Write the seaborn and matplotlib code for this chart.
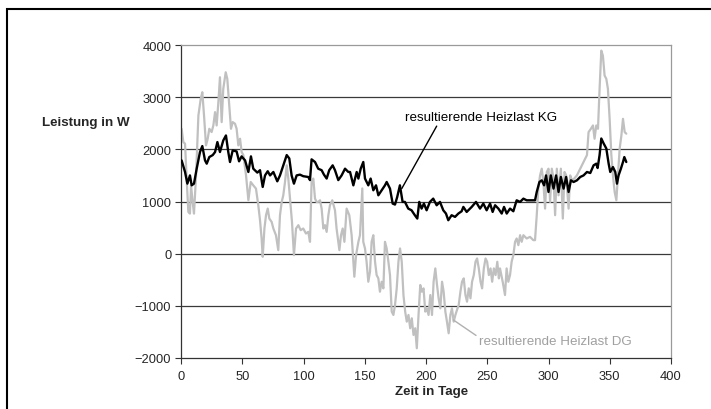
import matplotlib
matplotlib.use("Agg")
import matplotlib.pyplot as plt
import seaborn as sns
import pandas as pd
from matplotlib.patches import Rectangle

# ---- data ----
kg_day = [0.5, 3.3, 5.2, 7.3, 8.7, 10.6, 12.8, 15.5, 17.4, 19.6, 21, 23.1, 25.9, 27.8, 29.7, 31.8,
          34.5, 36.7, 38.6, 40, 42.2, 45.4, 47.4, 49.5, 52.3, 55, 57.1, 59, 62.3, 64.5, 66.7, 68.6,
          70.8, 72.7, 75.4, 78.6, 80.8, 83.5, 86.3, 88.4, 90.3, 92.2, 94.4, 97.1, 99.8, 103.9, 105.3,
          106.6, 109.4, 112, 114.8, 116.7, 118.9, 121, 123.8, 125.7, 128.4, 131.1, 133.9, 136.6,
          138, 140.7, 143.4, 144.8, 146.7, 148.8, 150.2, 152.9, 154.8, 157, 159.2, 161.1, 163.8,
          166.5, 167.9, 170.6, 172.8, 174.7, 176.5, 178.7, 180.9, 182.8, 185.5, 188.2, 190.9, 192.9,
          194.5, 196.4, 198.3, 200.5, 203.2, 205.9, 208.7, 211.4, 214.1, 216.3, 218.2, 220.9, 223.7,
          226.4, 229.1, 230.5, 233.2, 237.3, 240.8, 244.1, 246.8, 249.5, 252.3, 254.4, 256.4, 259.1,
          261.8, 263.7, 265.9, 268.6, 271.3, 274, 276.8, 279.5, 282.2, 286.3, 289, 290.4, 292.6,
          294.5, 296.4, 298, 300, 301.9, 304.1, 306.2, 308.2, 310.1, 312.3, 314.4, 316.4, 318.3,
          320.5, 323.2, 325.9, 328.6, 331.4, 334.1, 336.8, 339, 340.1, 341.7, 343.1, 345, 347.2,
          349.1, 350.4, 352.6, 354.5, 355.9, 357.2, 359.1, 360.8, 361.9, 363.5]
kg_val = [1788, 1566, 1342, 1500, 1310, 1342, 1629, 1948, 2063, 1788, 1725, 1852, 1890, 1948, 2139, 1948,
          2170, 2266, 1948, 1757, 1979, 1960, 1770, 1865, 1788, 1566, 1865, 1629, 1554, 1600, 1279, 1500,
          1580, 1500, 1566, 1387, 1500, 1693, 1890, 1825, 1500, 1342, 1500, 1515, 1485, 1470, 1410,
          1808, 1757, 1629, 1600, 1515, 1440, 1600, 1693, 1600, 1410, 1500, 1629, 1566,
          1566, 1310, 1566, 1440, 1629, 1757, 1440, 1310, 1440, 1215, 1310, 1119, 1215,
          1310, 1374, 1247, 960, 941, 1087, 1310, 992, 992, 864, 832, 737, 673,
          992, 864, 960, 832, 992, 1055, 928, 992, 832, 769, 641, 737, 705,
          769, 813, 896, 800, 896, 992, 864, 960, 832, 960, 800, 928, 864,
          769, 896, 769, 864, 813, 1023, 992, 1055, 1023, 1023, 1023, 1183, 1374,
          1406, 1310, 1500, 1183, 1500, 1247, 1500, 1183, 1470, 1247, 1470, 1183, 1406,
          1374, 1406, 1470, 1500, 1566, 1546, 1693, 1725, 1642, 1890, 2208, 2113, 2016,
          1725, 1566, 1660, 1566, 1342, 1500, 1629, 1757, 1852, 1757]

dg_day = [0.5, 1.9, 3.3, 4.6, 6, 7.3, 8.2, 9.5, 10.6, 12.3, 14.2, 16.1, 17.4, 18.8, 20.4, 21.8, 23.1,
          25, 26.4, 27.8, 29.1, 30.5, 31.8, 33.2, 34.5, 36.5, 37.8, 39.4, 40.8, 42.2, 44.1, 45.4,
          46.8, 48.2, 49.5, 50.9, 53.1, 55, 56.9, 59, 61.2, 63.1, 64.5, 65.8, 66.7, 68.1, 69.4,
          70.8, 72.1, 74, 75.4, 77.5, 79.4, 80.8, 82.2, 83.5, 84.9, 86.3, 87.6, 89, 90.6, 92.2,
          93.9, 95.8, 97.7, 99.8, 102, 103.9, 105.3, 106.6, 108, 109.4, 110.7, 112, 113.5, 114.8,
          116.2, 117.6, 118.9, 120.3, 121.6, 123.5, 125.7, 127, 129.3, 130.6, 132, 133.4, 135.2,
          137.4, 139.3, 140.7, 141.5, 142.9, 144.8, 146.1, 148, 148.8, 150.2, 151.5, 152.9, 154.3,
          155.6, 157, 158.4, 159.7, 161.1, 162.4, 163.8, 165.2, 166.5, 167.9, 169.3, 170.6, 172,
          173.4, 174.7, 176.1, 177.5, 178.8, 180.2, 181.6, 183, 184.3, 185.7, 187.1, 188.4, 189.8,
          191.2, 192.5, 193.9, 195.3, 196.6, 198, 199.4, 200.7, 202.1, 203.5, 204.9, 206.2, 207.6,
          209, 210.3, 211.7, 213.1, 214.4, 215.8, 217.1, 218.5, 219.9, 221.2, 222.6, 224, 225.3,
          226.7, 228.1, 229.4, 230.8, 232.2, 233.5, 234.9, 236.3, 237.6, 239, 240.4, 241.7, 243.1,
          244.5, 245.8, 247.2, 248.6, 249.9, 251.3, 252.7, 254, 255.4, 256.8, 258.2, 259.5,
          260.4, 262.6, 264.5, 265.8, 267.2, 268.6, 269.9, 271.3, 272.7, 274, 275.4, 276.8, 278.1,
          279.5, 282.2, 284.9, 287.6, 289, 290.4, 291.7, 293.1, 294.5, 295.8, 297.2, 298.6, 300,
          301.3, 302.7, 304.1, 305.4, 306.8, 308.2, 310.1, 311.7, 313.1, 314.4, 316.4, 317.7,
          319.1, 321, 323.2, 325.9, 328.6, 331.4, 332.7, 334.6, 336.3, 337.6, 339, 340.4, 341.7,
          343.1, 344.4, 345.8, 347.2, 348.5, 349.9, 351.3, 352.6, 354, 355.4, 356.7, 358.1, 359.5,
          360.8, 362.2, 363.5]
dg_val = [2394, 2139, 2108, 1438, 800, 768, 1310, 992, 768, 1500, 2649, 2967, 3095, 2649, 2076, 2203, 2394,
          2331, 2458, 2713, 2458, 2904, 3382, 2522, 3159, 3477, 3350, 2840, 2394, 2522, 2490, 2394,
          2076, 2203, 1948, 1890, 1500, 1024, 1374, 1310, 1247, 928, 641, 291, -60, 482, 737,
          864, 673, 609, 482, 354, 67, 737, 992, 1119, 1374, 1693, 1440, 1055, 609, -29,
          482, 546, 450, 482, 386, 418, 227, 1374, 1440, 1055, 992, 992, 1023, 864,
          482, 546, 418, 737, 928, 1023, 832, 482, 67, 354, 482, 227, 864,
          737, 354, -155, -442, -29, 227, 354, 1250, 227, 100, -155, -538, -346,
          227, 354, -155, -410, -474, -729, -538, -665, 227, 100, -155, -410, -1111,
          -1175, -984, -665, -155, 100, -155, -793, -1111, -1303, -1175, -1430, -1239, -1558,
          -1430, -1813, -1175, -601, -729, -665, -1111, -1048, -1175, -793, -1175, -538, -283,
          -601, -856, -1048, -538, -729, -1111, -1303, -1526, -1175, -1048, -1303, -1175, -1079,
          -984, -729, -538, -474, -793, -920, -665, -856, -538, -410, -155, -92, -283,
          -538, -665, -283, -92, -155, -410, -283, -538, -283, -410, -155, -474,
          -283, -538, -793, -283, -538, -410, -155, -29, 227, 291, 163, 354, 227,
          354, 291, 322, 259, 259, 737, 1247, 1500, 1629, 1374, 864, 1566, 1629,
          992, 1629, 1440, 737, 1629, 1119, 1629, 673, 1566, 1500, 864, 1500,
          1406, 1440, 1500, 1629, 1757, 1890, 2330, 2394, 2458, 2203, 2458, 2394, 3159,
          3892, 3796, 3414, 3350, 3159, 2585, 1890, 1500, 1183, 1023, 1500, 2016, 2266,
          2585, 2330, 2300]

x_ticks = [0, 50, 100, 150, 200, 250, 300, 350, 400]
y_ticks = [-2000, -1000, 0, 1000, 2000, 3000, 4000]
label_kg = "resultierende Heizlast KG"
label_dg = "resultierende Heizlast DG"
x_title = "Zeit in Tage"
y_title = "Leistung in W"

# ---- styling ----
sns.set_style("white")
plt.rcParams["font.family"] = ["Liberation Sans", "DejaVu Sans"]
FS = 9.6

fig = plt.figure(figsize=(7.11, 4.10), dpi=100)
ax = fig.add_axes([181 / 711, 1 - 359 / 410, 490 / 711, 313 / 410])

df_kg = pd.DataFrame({"Tag": kg_day, "W": kg_val})
df_dg = pd.DataFrame({"Tag": dg_day, "W": dg_val})

for y in y_ticks[1:-1]:
    ax.axhline(y, color="#3a3a3a", lw=0.9, zorder=0)

sns.lineplot(data=df_dg, x="Tag", y="W", ax=ax, color="#c0c0c0", lw=1.6, sort=False,
             estimator=None, zorder=2)
sns.lineplot(data=df_kg, x="Tag", y="W", ax=ax, color="#000000", lw=1.7, sort=False,
             estimator=None, zorder=3)

ax.set_xlim(0, 400)
ax.set_ylim(-2000, 4000)
ax.set_xticks(x_ticks)
ax.set_yticks(y_ticks)
ax.set_xlabel("")
ax.set_ylabel("")
ax.tick_params(axis="both", direction="out", length=4, width=0.8, color="#333333",
               labelsize=FS - 0.3, bottom=True, left=True)
ax.tick_params(axis="x", pad=5)
ax.tick_params(axis="y", pad=3)
for side in ["left", "bottom"]:
    ax.spines[side].set_color("#333333")
    ax.spines[side].set_linewidth(0.9)
for side in ["top", "right"]:
    ax.spines[side].set_color("#9a9a9a")
    ax.spines[side].set_linewidth(0.9)

ax.text(-0.194, 0.753, y_title, transform=ax.transAxes, ha="center", va="center",
        fontsize=FS, fontweight="bold")
ax.text(0.512, -0.105, x_title, transform=ax.transAxes, ha="center", va="center",
        fontsize=FS, fontweight="bold")

ax.annotate(label_kg, xy=(180.2, 1247), xytext=(182.9, 2623), ha="left", va="center",
            fontsize=FS, color="black",
            arrowprops=dict(arrowstyle="-", color="black", lw=1.0,
                            shrinkA=0, shrinkB=0, relpos=(0.22, 0.0)))
ax.annotate(label_dg, xy=(222.3, -1270), xytext=(243.5, -1679), ha="left", va="center",
            fontsize=FS, color="#a0a0a0",
            arrowprops=dict(arrowstyle="-", color="#b0b0b0", lw=1.0,
                            shrinkA=0, shrinkB=0, relpos=(0.0, 0.8)))

fig.patches.append(Rectangle((6.5 / 711, -0.05), 1.0, 1 - 9.5 / 410 + 0.05,
                             transform=fig.transFigure, fill=False, edgecolor="black",
                             lw=1.5, clip_on=False))

fig.savefig("out.png", dpi=100)
